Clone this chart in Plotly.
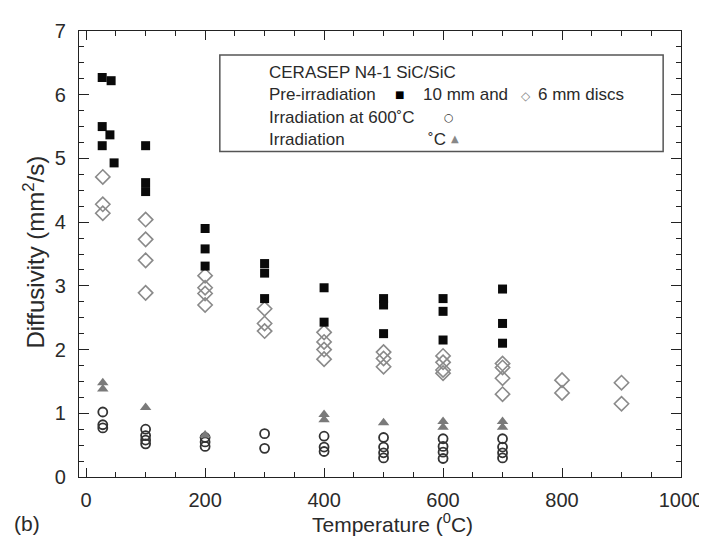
# =============================
# Diffusivité thermique — CERASEP N4-1 SiC/SiC
# =============================

import plotly.graph_objects as go

# =============================
# 1. DONNÉES
# =============================

# Pré-irradiation, disques 10 mm (carrés pleins)
sq_temp = [27, 27, 27, 42, 40, 47, 100, 100, 100, 200, 200, 200, 300, 300, 300,
           400, 400, 500, 500, 500, 600, 600, 600, 700, 700, 700]
sq_diff = [6.27, 5.5, 5.2, 6.22, 5.37, 4.93, 5.2, 4.62, 4.48, 3.9, 3.58, 3.31,
           3.35, 3.2, 2.8, 2.97, 2.43, 2.8, 2.7, 2.25, 2.8, 2.6, 2.15, 2.95, 2.41, 2.1]

# Pré-irradiation, disques 6 mm (losanges vides)
dm_temp = [28, 28, 28, 100, 100, 100, 100, 200, 200, 200, 200, 300, 300, 300,
           400, 400, 400, 400, 500, 500, 500, 600, 600, 600, 600,
           700, 700, 700, 700, 800, 800, 900, 900]
dm_diff = [4.71, 4.28, 4.14, 4.04, 3.73, 3.4, 2.89, 3.16, 2.97, 2.88, 2.7,
           2.64, 2.41, 2.29, 2.27, 2.12, 2.0, 1.85, 1.96, 1.86, 1.73,
           1.9, 1.8, 1.68, 1.63, 1.78, 1.72, 1.55, 1.3, 1.52, 1.32, 1.48, 1.15]

# Irradiation à 600 °C (cercles vides)
ci_temp = [28, 28, 28, 100, 100, 100, 100, 200, 200, 200, 300, 300,
           400, 400, 400, 500, 500, 500, 500, 600, 600, 600, 600, 700, 700, 700, 700]
ci_diff = [1.02, 0.82, 0.77, 0.75, 0.65, 0.58, 0.52, 0.62, 0.55, 0.48, 0.68, 0.45,
           0.64, 0.47, 0.4, 0.62, 0.47, 0.38, 0.3, 0.6, 0.48, 0.39, 0.29, 0.6, 0.47, 0.38, 0.3]

# Irradiation (triangles gris)
tr_temp = [28, 28, 100, 200, 400, 400, 500, 600, 600, 700, 700]
tr_diff = [1.48, 1.38, 1.09, 0.66, 0.98, 0.9, 0.85, 0.87, 0.78, 0.87, 0.78]

FONT = "Liberation Sans, Arial, sans-serif"
TXT = "#2a2a2a"

# =============================
# 2. GRAPHIQUE
# =============================

fig = go.Figure()

fig.add_trace(go.Scatter(
    x=dm_temp, y=dm_diff, mode="markers",
    marker=dict(symbol="diamond-open", size=11, color="#8a8a8a",
                line=dict(width=1.6, color="#8a8a8a")),
))
fig.add_trace(go.Scatter(
    x=sq_temp, y=sq_diff, mode="markers",
    marker=dict(symbol="square", size=9, color="#0a0a0a"),
))
fig.add_trace(go.Scatter(
    x=ci_temp, y=ci_diff, mode="markers",
    marker=dict(symbol="circle-open", size=9, color="#333",
                line=dict(width=1.8, color="#333")),
))
fig.add_trace(go.Scatter(
    x=tr_temp, y=tr_diff, mode="markers",
    marker=dict(symbol="triangle-up", size=10, color="#7a7a7a"),
))

axis_common = dict(
    showline=True, linecolor="#222", linewidth=1.3, mirror="allticks",
    ticks="inside", tickcolor="#222", showgrid=False, zeroline=False,
    tickfont=dict(family=FONT, size=20, color=TXT),
)

fig.update_xaxes(
    range=[-12, 1000], tick0=0, dtick=200, ticklen=9,
    ticklabelstandoff=5,
    minor=dict(dtick=50, ticklen=5, ticks="inside", tickcolor="#222"),
    **axis_common,
)
fig.update_yaxes(
    range=[0, 7], dtick=1, ticklen=10, ticklabelstandoff=8,
    minor=dict(dtick=0.25, ticklen=5, ticks="inside", tickcolor="#222"),
    **axis_common,
)

# Titres des axes
fig.add_annotation(text="Temperature (<sup>0</sup>C)", xref="paper", yref="paper",
                   x=0.52, y=-0.071, yanchor="top", showarrow=False, borderpad=0,
                   font=dict(family=FONT, size=21, color=TXT))
fig.add_annotation(text="Diffusivity (mm<sup>2</sup>/s)", xref="paper", yref="paper",
                   x=-0.075, y=0.505, textangle=-90, xanchor="center", showarrow=False,
                   font=dict(family=FONT, size=24, color=TXT))
fig.add_annotation(text="(b)", xref="paper", yref="paper",
                   x=-0.112, y=-0.105, xanchor="left", yanchor="middle", showarrow=False,
                   font=dict(family=FONT, size=21, color=TXT))

# =============================
# 3. LÉGENDE (encadré)
# =============================

W, H, L, B = 607, 448, 71, 469


def px(xp):
    return (xp - L) / W


def py(yp):
    return (B - yp) / H


fig.add_shape(type="rect", xref="paper", yref="paper",
              x0=px(213), x1=px(660), y0=py(142), y1=py(45),
              line=dict(color="#555", width=1.5), fillcolor="white", layer="below")

legend_text = [
    ("CERASEP N4-1 SiC/SiC", 262, 63),
    ("Pre-irradiation", 262, 85),
    ("10 mm and", 417, 85),
    ("6 mm discs", 533, 85),
    ("Irradiation at 600˚C", 262, 108),
    ("Irradiation", 262, 130),
    ("˚C", 422, 130),
]

for txt, xp, yp in legend_text:
    fig.add_annotation(text=txt, xref="paper", yref="paper",
                       x=px(xp), y=py(yp), xanchor="left", yanchor="middle",
                       showarrow=False, borderpad=0,
                       font=dict(family=FONT, size=17, color=TXT))

legend_symbols = [
    ("■", 394, 85, "#000", 10),
    ("◇", 522, 86, "#888", 12),
    ("○", 444, 108, "#333", 11),
    ("▲", 450, 129, "#888", 10),
]

for sym, xp, yp, col, size in legend_symbols:
    fig.add_annotation(text=sym, xref="paper", yref="paper",
                       x=px(xp), y=py(yp), xanchor="center", yanchor="middle",
                       showarrow=False, borderpad=0,
                       font=dict(family="DejaVu Sans", size=size, color=col))

fig.update_layout(
    width=707, height=537,
    margin=dict(l=71, r=29, t=21, b=68),
    paper_bgcolor="white", plot_bgcolor="white",
    showlegend=False,
)

fig.write_html("out.html")
